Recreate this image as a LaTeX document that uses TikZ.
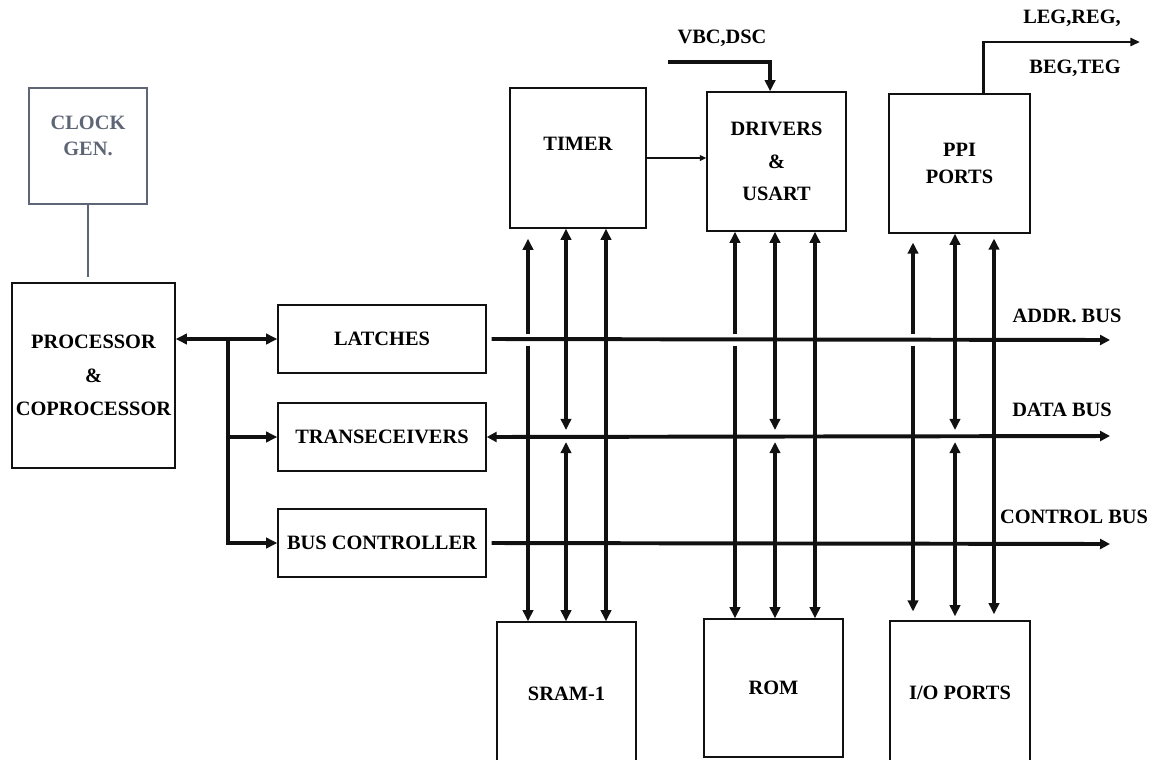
\documentclass[tikz,border=0pt]{standalone}
\usepackage{fontspec}
\setmainfont{Liberation Serif}
\usetikzlibrary{arrows.meta}
\definecolor{ink}{HTML}{111111}
\definecolor{slate}{HTML}{5E6676}

\begin{document}
\begin{tikzpicture}[
  x=0.025cm,y=-0.025cm,
  font=\bfseries\fontsize{14.5}{17}\selectfont,
  >={Triangle[length=2.8mm,width=2.6mm]},
  box/.style={draw=ink,line width=1pt,fill=white,align=center,inner sep=2pt},
  bus/.style={line width=2.8pt,draw=ink,-{Triangle[length=2.5mm,width=2.5mm]}},
  tap/.style={line width=2.5pt,draw=ink},
  link/.style={line width=2.6pt,draw=ink},
  wire/.style={line width=1.1pt,draw=ink}
]
\useasboundingbox (0,0) rectangle (1153,759);

\node[box,draw=slate,minimum width=2.95cm,minimum height=2.9cm,
  label={[text=slate,align=center,yshift=2.6mm]center:CLOCK\\[0.6mm]GEN.}] (clock) at (88,146) {};
\node[box,minimum width=4.075cm,minimum height=4.625cm] (proc) at (93.5,375.5) {PROCESSOR\\[2.4mm]\&\\[2.4mm]COPROCESSOR};

\node[box,minimum width=5.2cm,minimum height=1.7cm] (latches) at (382,339) {LATCHES};
\node[box,minimum width=5.2cm,minimum height=1.7cm] (trans) at (382,437) {TRANSECEIVERS};
\node[box,minimum width=5.2cm,minimum height=1.7cm] (busc) at (382,543) {BUS CONTROLLER};

\node[box,minimum width=3.4cm,minimum height=3.5cm] (timer) at (578,158) {TIMER\\[1mm]};
\node[box,minimum width=3.475cm,minimum height=3.475cm] (drivers) at (776.5,161.5) {DRIVERS\\[2.2mm]\&\\[2.2mm]USART};
\node[box,minimum width=3.525cm,minimum height=3.475cm] (ppi) at (959.5,163.5) {PPI\\[0.8mm]PORTS};

\node[box,minimum width=3.475cm,minimum height=3.575cm] (sram) at (566.5,693.5) {SRAM-1};
\node[box,minimum width=3.475cm,minimum height=3.45cm] (rom) at (773.5,688) {ROM};
\node[box,minimum width=3.5cm,minimum height=3.6cm] (io) at (960,693) {I/O PORTS};

% processor side
\coordinate (split) at (228,339);
\draw[slate,line width=1.3pt,shorten >=1.2mm] (clock.south) -- (clock.south |- proc.north);
\draw[link,<->] (proc.east |- latches.west) -- (latches.west);
\draw[link,->] (split |- trans.west) -- (trans.west);
\draw[link,->] (split) |- (busc.west);

% system buses
\coordinate (addrend) at (1110,340);
\coordinate (dataend) at (1110,436);
\coordinate (ctrlend) at (1110,544);
\draw[bus] ([xshift=1.2mm]latches.east) -- (addrend);
\draw[bus,{Triangle[length=2.5mm,width=2.5mm]}-{Triangle[length=2.5mm,width=2.5mm]}] (trans.east) -- (dataend);
\draw[bus] ([xshift=1.2mm]busc.east) -- (ctrlend);
\node (addrlabel) at (1067,316) {ADDR.~BUS};
\node (datalabel) at (1062,410) {DATA BUS};
\node (ctrllabel) at (1074,517) {CONTROL BUS};

% taps: timer / sram
\coordinate (tap1a) at (528,340);
\coordinate (tap1b) at (566,436);
\coordinate (tap1c) at (606,340);
\draw[tap,<-,shorten <=2.5mm,shorten >=1.4mm] (tap1a |- timer.south) -- (tap1a);
\draw[tap,->,shorten <=1.4mm] (tap1a) -- (tap1a |- sram.north);
\draw[tap,<->,shorten >=1.5mm] (tap1b |- timer.south) -- (tap1b);
\draw[tap,<->,shorten <=1.5mm] (tap1b) -- (tap1b |- sram.north);
\draw[tap,<->] (tap1c |- timer.south) -- (tap1c |- sram.north);

% taps: drivers / rom
\coordinate (tap2a) at (735,340);
\coordinate (tap2b) at (775,436);
\coordinate (tap2c) at (815,340);
\draw[tap,<-,shorten >=1.4mm] (tap2a |- drivers.south) -- (tap2a);
\draw[tap,->,shorten <=1.4mm] (tap2a) -- (tap2a |- rom.north);
\draw[tap,<->,shorten >=1.5mm] (tap2b |- drivers.south) -- (tap2b);
\draw[tap,<->,shorten <=1.5mm] (tap2b) -- (tap2b |- rom.north);
\draw[tap,<->] (tap2c |- drivers.south) -- (tap2c |- rom.north);

% taps: ppi / io
\coordinate (tap3a) at (913,340);
\coordinate (tap3b) at (955,436);
\coordinate (tap3c) at (994,340);
\draw[tap,<-,shorten <=2.2mm,shorten >=1.4mm] (tap3a |- ppi.south) -- (tap3a);
\draw[tap,->,shorten <=1.4mm,shorten >=2.2mm] (tap3a) -- (tap3a |- io.north);
\draw[tap,<->,shorten >=1.5mm] (tap3b |- ppi.south) -- (tap3b);
\draw[tap,<->,shorten <=1.5mm,shorten >=1mm] (tap3b) -- (tap3b |- io.north);
\draw[tap,<->,shorten <=1.2mm,shorten >=1.5mm] (tap3c |- ppi.south) -- (tap3c |- io.north);

% top signals
\coordinate (vbcin) at (668,62);
\coordinate (ppiout) at (1140,42);
\draw[wire,-{Triangle[length=1.6mm,width=1.4mm]}] (timer.east) -- (timer.east -| drivers.west);
\draw[link,->] (vbcin) -| ([xshift=-1.6mm]drivers.north);
\draw[link,line width=2pt,-{Triangle[length=2.4mm,width=2mm]}] ([xshift=5.9mm]ppi.north) |- (ppiout);
\node (vbclabel) at (722,38) {VBC,DSC};
\node (legreg) at (1072,18) {LEG,REG,};
\node (begteg) at (1075,68) {BEG,TEG};
\end{tikzpicture}
\end{document}
